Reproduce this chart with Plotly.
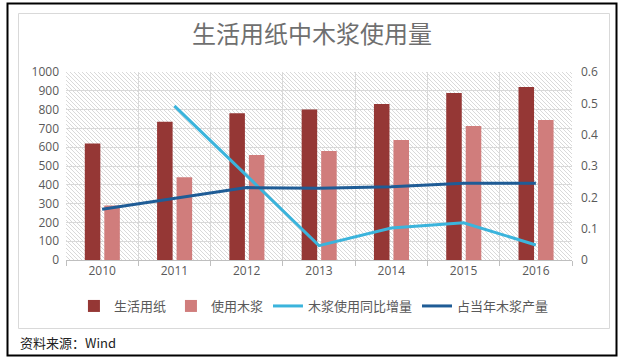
import base64
import plotly.graph_objects as go

years = ["2010", "2011", "2012", "2013", "2014", "2015", "2016"]
tissue_paper = [620, 735, 780, 800, 830, 888, 920]
wood_pulp_used = [290, 440, 558, 580, 638, 713, 745]
pulp_yoy = [None, 0.492, 0.268, 0.046, 0.102, 0.119, 0.048]
pulp_share = [0.162, 0.197, 0.231, 0.229, 0.234, 0.245, 0.245]

left_ticks = list(range(0, 1001, 100))
right_ticks = [0, 0.1, 0.2, 0.3, 0.4, 0.5, 0.6]
right_labels = ["0", "0.1", "0.2", "0.3", "0.4", "0.5", "0.6"]

W, H = 624, 362
L, R, T, B = 66, 52, 72, 102
PW, PH = W - L - R, H - T - B

FONT = "Open Sans, Noto Sans CJK SC, sans-serif"
CJK = "Noto Sans CJK SC, sans-serif"
GRAY = "#595959"

# hatched plot background as an svg image
svg = (
    f'<svg xmlns="http://www.w3.org/2000/svg" width="{PW}" height="{PH}" '
    f'viewBox="0 0 {PW} {PH}" preserveAspectRatio="none">'
    '<defs><pattern id="h" width="4" height="4" patternUnits="userSpaceOnUse">'
    '<path d="M-1,-1 L5,5 M-1,3 L1,5 M3,-1 L5,1" stroke="#cfcfcf" stroke-width="0.8"/>'
    '</pattern></defs>'
    f'<rect width="{PW}" height="{PH}" fill="white"/>'
    f'<rect width="{PW}" height="{PH}" fill="url(#h)"/></svg>'
)
svg_uri = "data:image/svg+xml;base64," + base64.b64encode(svg.encode()).decode()

fig = go.Figure()
fig.add_trace(go.Bar(
    x=years, y=tissue_paper, name="生活用纸",
    marker=dict(color="#953735", line=dict(width=0)),
    offset=-0.24, width=0.215,
))
fig.add_trace(go.Bar(
    x=years, y=wood_pulp_used, name="使用木浆",
    marker=dict(color="#d07d7c", line=dict(width=0)),
    offset=0.03, width=0.215,
))
fig.add_trace(go.Scatter(
    x=years, y=pulp_yoy, name="木浆使用同比增量", yaxis="y2",
    mode="lines", line=dict(color="#3bb4dc", width=3), connectgaps=False,
))
fig.add_trace(go.Scatter(
    x=years, y=pulp_share, name="占当年木浆产量", yaxis="y2",
    mode="lines", line=dict(color="#1f5c96", width=3),
))


def px2x(px):
    return (px - L) / PW


def py2y(py):
    return (T + PH - py) / PH


shapes = [
    dict(type="rect", xref="paper", yref="paper",
         x0=px2x(7.5), x1=px2x(616.5), y0=py2y(355.5), y1=py2y(3.5),
         line=dict(color="black", width=2), fillcolor="rgba(0,0,0,0)", layer="below"),
    dict(type="rect", xref="paper", yref="paper",
         x0=px2x(18.5), x1=px2x(609.5), y0=py2y(328.5), y1=py2y(13.5),
         line=dict(color="#d9d9d9", width=1), fillcolor="rgba(0,0,0,0)", layer="below"),
]

fig.update_layout(
    width=W, height=H,
    margin=dict(l=L, r=R, t=T, b=B, autoexpand=False),
    paper_bgcolor="white",
    plot_bgcolor="rgba(0,0,0,0)",
    barmode="overlay",
    showlegend=True,
    font=dict(family=FONT, size=12, color=GRAY),
    title=dict(text="生活用纸中木浆使用量", x=px2x(312), xref="paper", xanchor="center",
               y=1 - 35 / H, yanchor="middle", yref="container",
               font=dict(family=CJK, size=24, color="#6f6f6f")),
    xaxis=dict(
        type="category", tickson="boundaries", showgrid=True, gridcolor="#d9d9d9",
        gridwidth=1, showline=True, linecolor="#bfbfbf", ticks="outside",
        ticklen=5, tickcolor="#bfbfbf", tickfont=dict(size=12, color=GRAY),
        range=[-0.5, 6.5], fixedrange=True, automargin=False,
    ),
    yaxis=dict(
        range=[0, 1000], tickvals=left_ticks, showgrid=True, gridcolor="#d9d9d9",
        gridwidth=1, zeroline=False, showline=False, ticks="",
        tickfont=dict(size=12, color=GRAY), ticklabelstandoff=6, automargin=False,
    ),
    yaxis2=dict(
        range=[0, 0.6], tickvals=right_ticks, ticktext=right_labels,
        overlaying="y", side="right", showgrid=False, zeroline=False,
        showline=False, tickfont=dict(size=12, color=GRAY), ticklabelstandoff=8,
        automargin=False,
    ),
    legend=dict(
        orientation="h", x=0.49, xanchor="center", y=py2y(306), yanchor="middle",
        font=dict(family=CJK, size=13, color=GRAY), itemwidth=30,
        bgcolor="rgba(0,0,0,0)", traceorder="normal",
    ),
    images=[dict(source=svg_uri, xref="paper", yref="paper", x=0, y=1,
                 sizex=1, sizey=1, sizing="stretch", xanchor="left",
                 yanchor="top", layer="below")],
    shapes=shapes,
    annotations=[dict(text="资料来源：Wind", xref="paper", yref="paper",
                      x=px2x(18), y=py2y(342), xanchor="left", yanchor="middle",
                      showarrow=False, font=dict(family=CJK, size=13, color="#222222"))],
)

fig.write_html(
    "out.html",
    config={"displayModeBar": False},
    post_script="document.body.style.margin='0';document.body.style.padding='0';"
                "document.body.style.overflow='hidden';",
)
